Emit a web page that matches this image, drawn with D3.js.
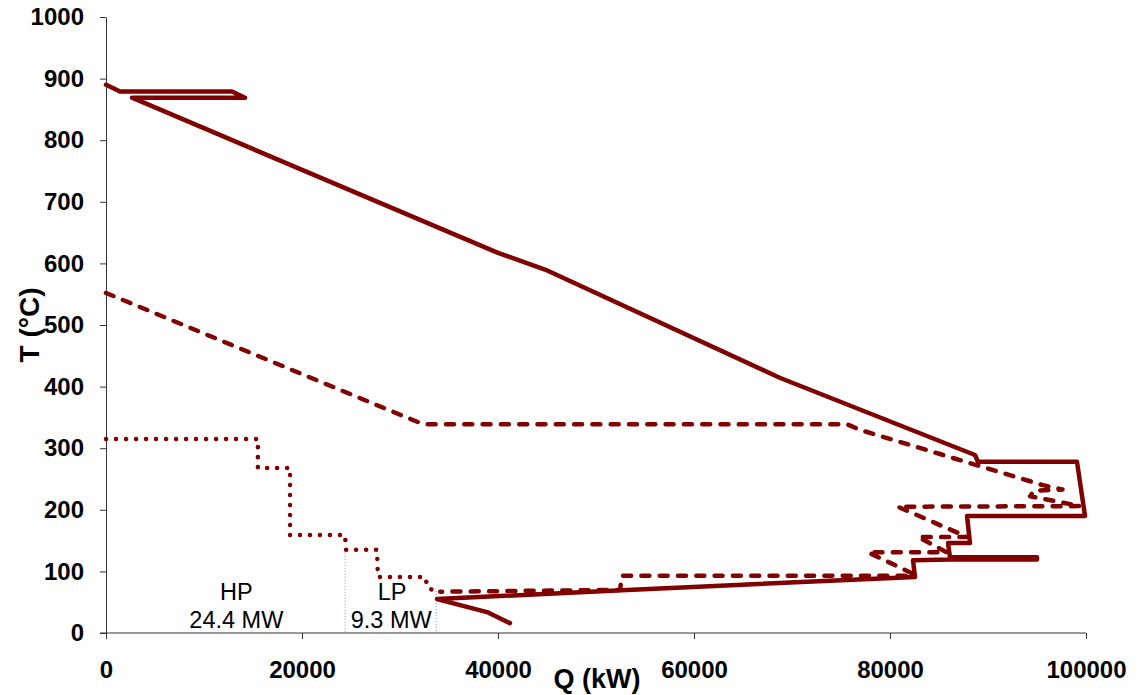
<!DOCTYPE html>
<html>
<head>
<meta charset="utf-8">
<script src="https://cdn.jsdelivr.net/npm/d3@7"></script>
<style>
body { margin: 0; background: #fff; }
text { font-family: "Liberation Sans", Arial, sans-serif; }
</style>
</head>
<body>
<svg id="chart"></svg>
<script>
// hot composite (solid)
var hotQ = [0, 1430, 12860, 14180, 2650, 40000, 44800, 68800, 88670, 88980, 99080, 99900, 87860, 88160, 85920, 86120, 95000, 95000, 86120, 82350, 82550, 53160, 33780, 38880, 41220];
var hotT = [890, 879, 879, 869, 869, 617, 590, 414, 289, 278, 278, 190, 190, 146, 146, 123, 123, 119.5, 119.5, 118, 91, 70, 55, 34, 16];
// cold composite (dashed)
var coldQ = [0, 32040, 32450, 75600, 76900, 95600, 97600, 94700, 94300, 99400, 80800, 87860, 82860, 85800, 77760, 82240, 82350, 52650, 52450, 34100];
var coldT = [552, 341, 339, 339, 330, 240, 233, 231, 222, 206, 205, 156, 156, 131, 131, 97, 93, 93, 70, 67];
// steam side (dotted)
var steamQ = [0, 15500, 15500, 18780, 18780, 24390, 24490, 27650, 27750, 32550, 32860, 33670];
var steamT = [315, 315, 268, 268, 159, 159, 135, 135, 91, 91, 73, 68];
// HP / LP split markers
var divQ = [24400, 33700];
var divT = [135, 68];
var xTicks = [0, 20000, 40000, 60000, 80000, 100000];
var yTicks = [0, 100, 200, 300, 400, 500, 600, 700, 800, 900, 1000];

var cfg = { width: 1139, height: 695, left: 106, right: 1086, top: 17, bottom: 633 };
var red = "#800000";

var svg = d3.select("#chart")
	.attr("width", cfg.width)
	.attr("height", cfg.height);

var x = d3.scaleLinear().domain([0, 100000]).range([cfg.left, cfg.right]);
var y = d3.scaleLinear().domain([0, 1000]).range([cfg.bottom, cfg.top]);

function pts(Q, T) {
	return Q.map(function(q, i) { return [q, T[i]]; });
}

var line = d3.line()
	.x(function(d) { return x(d[0]); })
	.y(function(d) { return y(d[1]); });

// axes
var xAxis = svg.append("g")
	.attr("transform", "translate(0," + cfg.bottom + ")")
	.call(d3.axisBottom(x).tickValues(xTicks).tickSize(6).tickSizeOuter(0).tickFormat(d3.format("d")));
var yAxis = svg.append("g")
	.attr("transform", "translate(" + cfg.left + ",0)")
	.call(d3.axisLeft(y).tickValues(yTicks).tickSize(6).tickSizeOuter(0).tickFormat(d3.format("d")));

[xAxis, yAxis].forEach(function(a) {
	a.select(".domain").attr("stroke", "#333");
	a.selectAll(".tick line").attr("stroke", "#333");
	a.selectAll("text")
		.attr("font-family", "Liberation Sans, Arial, sans-serif")
		.attr("font-size", 24)
		.attr("font-weight", "bold")
		.attr("fill", "#000");
});
xAxis.selectAll("text").attr("y", 28).attr("dy", "0.71em");
yAxis.selectAll("text").attr("x", -22);
// x axis line reaches the y tick
xAxis.select(".domain").attr("d", "M" + (cfg.left - 6) + ",0H" + cfg.right);

// HP / LP split lines
svg.selectAll(".div")
	.data(divQ)
	.enter().append("line")
	.attr("class", "div")
	.attr("x1", function(d) { return x(d); })
	.attr("x2", function(d) { return x(d); })
	.attr("y1", function(d, i) { return y(divT[i]); })
	.attr("y2", y(0))
	.attr("stroke", "#5b9bd5")
	.attr("stroke-width", 1)
	.attr("stroke-dasharray", "1,2");

// curves
svg.append("path")
	.attr("d", line(pts(steamQ, steamT)))
	.attr("fill", "none")
	.attr("stroke", red)
	.attr("stroke-width", 4.5)
	.attr("stroke-linecap", "round")
	.attr("stroke-dasharray", "0.1,9.9");

svg.append("path")
	.attr("d", line(pts(coldQ, coldT)))
	.attr("fill", "none")
	.attr("stroke", red)
	.attr("stroke-width", 4.5)
	.attr("stroke-linecap", "round")
	.attr("stroke-linejoin", "round")
	.attr("stroke-dasharray", "8,10.3");

svg.append("path")
	.attr("d", line(pts(hotQ, hotT)))
	.attr("fill", "none")
	.attr("stroke", red)
	.attr("stroke-width", 4.5)
	.attr("stroke-linejoin", "round")
	.attr("stroke-linecap", "round");

// labels
var notes = [
	{ t: "HP", q: 13300, py: 600 },
	{ t: "24.4 MW", q: 13300, py: 628 },
	{ t: "LP", q: 29200, py: 600 },
	{ t: "9.3 MW", q: 29100, py: 628 }
];
svg.selectAll(".note")
	.data(notes)
	.enter().append("text")
	.attr("class", "note")
	.attr("x", function(d) { return x(d.q); })
	.attr("y", function(d) { return d.py; })
	.attr("text-anchor", "middle")
	.attr("font-size", 23.5)
	.text(function(d) { return d.t; });

svg.append("text")
	.attr("x", 597)
	.attr("y", 688)
	.attr("text-anchor", "middle")
	.attr("font-size", 27)
	.attr("font-weight", "bold")
	.text("Q (kW)");

svg.append("text")
	.attr("transform", "translate(39,325) rotate(-90)")
	.attr("text-anchor", "middle")
	.attr("font-size", 28)
	.attr("font-weight", "bold")
	.text("T (°C)");
</script>
</body>
</html>
